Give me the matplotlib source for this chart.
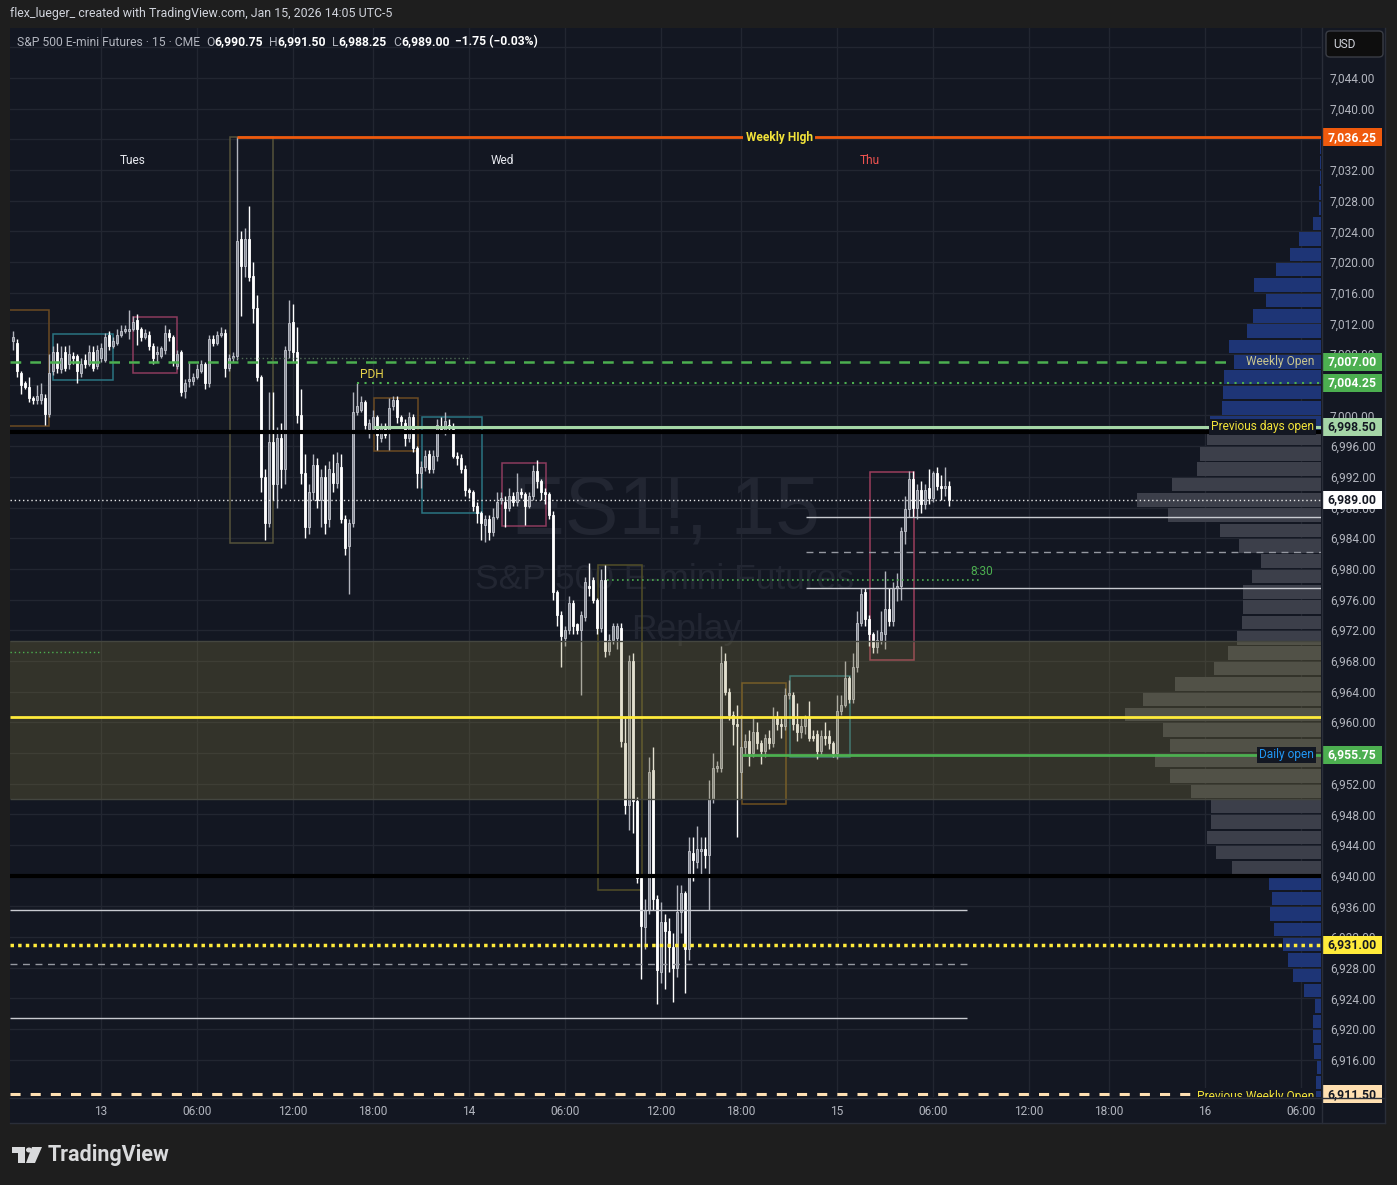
import numpy as np
import matplotlib.pyplot as plt
from matplotlib.patches import Rectangle, FancyBboxPatch, Polygon, Circle
from matplotlib.lines import Line2D
from matplotlib.ticker import FuncFormatter
import matplotlib.transforms as mtrans

FONT = ['Roboto', 'DejaVu Sans']
plt.rcParams['font.family'] = FONT

W, H = 1397, 1185
BG = '#131722'
OUT = '#1e1e1e'
AXC = '#b2b5be'

# ---- 15 min bars, index 0 = Jan 13 00:00 (ET) ----
first_bar = -22
opens = [7009.75, 7009.5, 7005.5, 7004.25, 7003.75, 7002.25, 7002, 7002, 7002.25, 7000.25,
         7005.75, 7008.25, 7006, 7008.25, 7006.75, 7007.75, 7007.75, 7005.5, 7007.25, 7006.75,
         7008.25, 7006.5, 7007.5, 7007.25, 7010.5, 7009, 7009.5, 7010.5, 7011, 7011,
         7011.25, 7012.5, 7011.25, 7010.25, 7010.5, 7009, 7008, 7007.75, 7008.5, 7010.75,
         7010.25, 7006.5, 7008.25, 7003.25, 7004.5, 7004.5, 7005, 7005.75, 7006.75, 7004.25,
         7010, 7009.5, 7010.5, 7010.75, 7006.25, 7007.5, 7007.75, 7023, 7019.5, 7023,
         7018.25, 7014, 7005, 6992, 6986, 6996.5, 6991, 6997, 6993, 7008.5,
         7012.25, 7008.25, 7000, 6992.5, 6985.5, 6990, 6993.5, 6989, 6992, 6986.5,
         6992.5, 6991.25, 6993.25, 6986.5, 6983, 6986, 7000.5, 7000.75, 7001.75, 6998.25,
         6998.25, 6999.75, 6997, 6998.5, 6998, 7001.25, 7002, 6999.75, 6999, 6997,
         6999.75, 6995.75, 6992.5, 6993.25, 6995, 6993, 6994.75, 6998.5, 6998, 6998.75,
         6998.25, 6994.75, 6994.5, 6993, 6990.25, 6990, 6988.25, 6987.25, 6985.75, 6986.5,
         6984.75, 6986.75, 6989, 6988.75, 6988, 6989.5, 6988.75, 6990, 6989.75, 6988.25,
         6989.5, 6992.75, 6991.5, 6990, 6989.75, 6987, 6977, 6974, 6971, 6972,
         6975.5, 6972.75, 6972, 6973.75, 6977.75, 6978.5, 6976, 6972.25, 6978.5, 6969.25,
         6970.75, 6971, 6972.25, 6957.25, 6949.25, 6968, 6949.75, 6939.75, 6933.25, 6935.5,
         6953.75, 6937, 6927.5, 6934, 6932.75, 6930.75, 6928, 6935.25, 6937.75, 6930.5,
         6943, 6941.75, 6943.25, 6943.5, 6942.75, 6950, 6954, 6954, 6968, 6964,
         6961, 6959.75, 6953.5, 6956.75, 6957.5, 6956, 6958.75, 6957.25, 6956.25, 6958,
         6957.25, 6960.75, 6959.75, 6959.5, 6963.5, 6963.5, 6959.75, 6958.75, 6959.5, 6960.75,
         6958.25, 6958.5, 6956.25, 6958.25, 6958.25, 6957.25, 6956, 6961.5, 6962.25, 6965.75,
         6963, 6967.25, 6973, 6977, 6973.5, 6971.5, 6969.75, 6970.75, 6971.5, 6974.75,
         6973.25, 6977.5, 6977.75, 6985, 6987.75, 6991.75, 6988, 6990.25, 6988.5, 6990.5,
         6989.25, 6992.5, 6990.75, 6990.5, 6990.75]
highs = [7011, 7010, 7005.75, 7004.5, 7005, 7002.5, 7004, 7004.25, 7002.75, 7008,
         7009, 7009.5, 7009, 7009, 7009.25, 7008.25, 7008, 7007.5, 7008, 7009.25,
         7009, 7009.25, 7009.5, 7010.75, 7011, 7010.25, 7011.25, 7011.75, 7011.75, 7013.75,
         7013, 7013.25, 7011.5, 7011.25, 7011, 7009.5, 7009, 7009, 7011.75, 7011.25,
         7010.5, 7008.5, 7008.5, 7004.75, 7007, 7005.5, 7006.75, 7007.25, 7007, 7010.5,
         7010.5, 7011, 7011.5, 7011.25, 7008, 7008.25, 7036.25, 7024, 7024.5, 7027.25,
         7020, 7015.75, 7005.25, 6993, 7003, 7003, 6998.5, 6999, 7009, 7015,
         7014.5, 7011.5, 7003.5, 6995, 6991, 6995, 6994.5, 6993, 6993.5, 6994,
         6995, 6995.25, 6995, 6987, 6986.5, 7003, 7004.25, 7002.5, 7002, 6999.5,
         7000.75, 7000, 6999, 6999, 7002.25, 7002.5, 7002.5, 7000, 6999.5, 7000.5,
         7000.25, 6996, 6994, 6995.5, 6995.5, 6995.5, 6999.5, 6999.75, 7000.5, 6999.5,
         6999, 6995.25, 6995, 6993.5, 6990.5, 6990.25, 6988.75, 6987.5, 6987, 6987,
         6988, 6990, 6990, 6989.5, 6990.5, 6990, 6992.5, 6990.5, 6990, 6990,
         6993.5, 6994.25, 6991.75, 6990.5, 6990, 6987.5, 6977.25, 6974.5, 6972.5, 6976.5,
         6976, 6973, 6974.5, 6979, 6980.75, 6979, 6976.25, 6980, 6980.5, 6971.5,
         6973, 6973, 6973, 6960.5, 6968.75, 6969, 6950.25, 6940, 6937, 6955.5,
         6956.75, 6937.5, 6936.5, 6935, 6934.5, 6932.5, 6938.75, 6938.75, 6938, 6945,
         6945, 6946.5, 6945, 6945, 6952.5, 6956, 6955, 6970, 6969, 6964.5,
         6961.5, 6962.25, 6961, 6958.5, 6959, 6960.5, 6960, 6957.75, 6958.5, 6959,
         6962, 6961.5, 6960.5, 6964.5, 6965.5, 6964, 6962.5, 6960.5, 6961, 6962.75,
         6959, 6959, 6959, 6960, 6959, 6957.5, 6963.5, 6963.5, 6968, 6966,
         6969, 6974.5, 6977.5, 6977.5, 6974, 6971.75, 6972, 6974.5, 6979.75, 6977.5,
         6978.25, 6979.5, 6985.5, 6989.5, 6992.75, 6992.75, 6991, 6991.5, 6991, 6993,
         6992.75, 6993.25, 6992.25, 6993.25, 6991.5]
lows = [7008.5, 7005, 7002.75, 7003.5, 7001.75, 7001.5, 7001.5, 7001.5, 6998.75, 6999.75,
        7005.25, 7005.5, 7005.5, 7005.75, 7006, 7006.75, 7004.25, 7005, 7006.25, 7006.5,
        7005.75, 7006, 7007, 7007, 7008.5, 7008.75, 7009.25, 7010.25, 7010.75, 7010,
        7011, 7009.25, 7009.75, 7010, 7008.5, 7006.75, 7007, 7007.5, 7008, 7009.75,
        7006.5, 7006, 7002.5, 7002.25, 7003.75, 7004, 7004.75, 7005.5, 7003.5, 7003.75,
        7009, 7009.25, 7010.25, 7005, 7005.75, 7007, 7007.25, 7013, 7018, 7017.5,
        7012, 7004.5, 6990, 6983.75, 6985.5, 6989, 6988, 6990.5, 6991, 7007.5,
        7007, 6999, 6991, 6984, 6984.5, 6989, 6988, 6985.5, 6984.5, 6985.5,
        6990, 6990.5, 6986, 6981.75, 6976.75, 6985.5, 7000, 7000.5, 6998.25, 6997,
        6997.75, 6995.5, 6996.5, 6997, 6995.5, 7000.75, 6999, 6998.5, 6996, 6996.5,
        6995.25, 6990.5, 6990.5, 6992.75, 6992.5, 6992.5, 6994, 6997.75, 6997.5, 6997.75,
        6994.5, 6993.5, 6992.5, 6989.5, 6989.25, 6987.5, 6986, 6983.75, 6983.5, 6983.75,
        6984.25, 6986.5, 6988.5, 6985.5, 6987.5, 6988.25, 6988.25, 6989.25, 6985.75, 6988,
        6989, 6990.5, 6989, 6988.5, 6986.5, 6976, 6972.5, 6967.25, 6970, 6971.5,
        6971.5, 6971.5, 6963.5, 6973.25, 6976.5, 6975.5, 6971.5, 6971.75, 6968.5, 6968.75,
        6970.25, 6969.5, 6956.75, 6948, 6946, 6945.5, 6939, 6926.5, 6930.5, 6935,
        6935.5, 6923.25, 6926, 6925.25, 6927.5, 6923.5, 6926.75, 6932.5, 6924.75, 6929,
        6939.25, 6941, 6940, 6941, 6935.5, 6949.5, 6953.5, 6953.5, 6963.5, 6960.25,
        6957, 6945, 6950, 6955.75, 6954.25, 6955.5, 6956.5, 6954.5, 6955.5, 6956.5,
        6956.75, 6959, 6958, 6959, 6963, 6959, 6957.5, 6958, 6958.5, 6957.5,
        6957.5, 6955.25, 6955.75, 6957, 6956.5, 6955.5, 6955.25, 6961, 6962, 6962.5,
        6962.5, 6966.5, 6972.5, 6972.5, 6970, 6969, 6969, 6970.25, 6969.5, 6972.5,
        6972.5, 6975.75, 6976, 6983.25, 6986.75, 6986.75, 6986.5, 6987.25, 6987.75, 6988.5,
        6988.75, 6990.25, 6989, 6989.5, 6988.25]
closes = [7010.25, 7005.75, 7004, 7003.75, 7002.25, 7002, 7002.5, 7002.75, 7000.25, 7005.5,
          7008.25, 7006.25, 7007.5, 7006.25, 7008, 7007.5, 7005.75, 7006.75, 7006.75, 7008.25,
          7006.25, 7008.5, 7008.75, 7010.25, 7009, 7009.75, 7010.5, 7011, 7011.25, 7011.25,
          7012.25, 7011.25, 7010.25, 7010.75, 7009, 7007.5, 7008.25, 7008.75, 7010.75, 7010.25,
          7007, 7008, 7003, 7004.25, 7004.75, 7005, 7006, 7006.75, 7004.25, 7010,
          7009.5, 7010.5, 7010.75, 7006.25, 7007.5, 7007.75, 7022.75, 7019.5, 7023, 7018,
          7014, 7005, 6992, 6986, 6996.5, 6991, 6997, 6993, 7008.5, 7012,
          7008.25, 7000, 6992.5, 6985.5, 6990, 6993.5, 6989, 6992, 6986, 6993,
          6991.25, 6993.75, 6986.5, 6982.75, 6986, 7000.5, 7001.25, 7001.75, 6998.75, 6999,
          6999.75, 6997.5, 6998.5, 6997.5, 7001, 7002, 6999.75, 6999.25, 6997, 6999.75,
          6995.75, 6992.5, 6993.25, 6994.75, 6993, 6994.75, 6998.75, 6998.25, 6999.25, 6998.5,
          6994.75, 6994.5, 6993, 6990.25, 6990, 6988.25, 6987.25, 6986, 6986.5, 6984.75,
          6986.75, 6988.75, 6989.25, 6988, 6989.5, 6988.75, 6990, 6989.75, 6988.25, 6989.5,
          6992.75, 6991.5, 6990, 6989.75, 6987, 6977, 6974, 6971.25, 6972, 6975.5,
          6972.5, 6972, 6974, 6978.25, 6977.5, 6976, 6972.25, 6978.5, 6969.25, 6970.75,
          6972.5, 6972.5, 6957.5, 6949.25, 6968, 6949.75, 6939.75, 6933.5, 6935.5, 6953.5,
          6937, 6927.75, 6934, 6932.75, 6930.75, 6928, 6935.25, 6937.75, 6930.5, 6943.25,
          6942, 6943.5, 6943.5, 6942.75, 6950, 6954, 6954.25, 6967.75, 6964, 6961,
          6959.75, 6959.5, 6956.75, 6957.5, 6956, 6958.75, 6957.25, 6956.25, 6958, 6957.25,
          6960.75, 6959.75, 6959.5, 6963.5, 6963.75, 6959.75, 6958.75, 6959.5, 6960.75, 6958,
          6958, 6956.25, 6958.25, 6958, 6957.25, 6956, 6961.5, 6962.25, 6965.75, 6963,
          6967.25, 6973, 6976.75, 6973.5, 6971.5, 6969.75, 6970.75, 6971.75, 6974.75, 6973.25,
          6977.5, 6977.75, 6985, 6987.75, 6991.75, 6988, 6990.25, 6988.5, 6990.25, 6989.25,
          6992.5, 6990.75, 6990.5, 6990.75, 6989]

# time axis
time_ticks = [0, 24, 48, 68, 92, 116, 140, 160, 184, 208, 232, 252, 276, 300]
time_labels = ['13', '06:00', '12:00', '18:00', '14', '06:00', '12:00', '18:00',
               '15', '06:00', '12:00', '18:00', '16', '06:00']
day_names = ['Tues', 'Wed', 'Thu']
day_pos = [8, 100.25, 192.25]

# price scale ticks hidden under the price tags / USD button
hidden_ticks = [7048, 7036, 7004, 6956, 6912]

# volume profile, 2 point rows
vp_levels = list(range(6910, 7036, 2))
vp_volume = [7, 5, 4, 7, 8, 8, 6, 17, 28, 33, 38, 47, 51, 49, 52,
             89, 105, 114, 110, 110, 130, 151, 166, 151, 158, 196, 178, 146, 107, 93,
             84, 79, 78, 78, 69, 60, 82, 101, 153, 184, 149, 124, 121, 114,
             111, 99, 98, 97, 87, 92, 74, 68, 55, 67, 45, 31, 22, 8, 2, 2, 1.5, 1.5, 1.5]
va_low, va_high = 6940, 6998

# key levels
weekly_high = 7036.25
weekly_open = 7007.0
green_level = 7004.25
prev_day_open = 6998.5
midnight_line = 6997.9
last_price = 6989.0
daily_open = 6955.75
zone_low, zone_high = 6950.0, 6970.6
zone_mid = 6960.75
low_black = 6939.9
yellow_dotted = 6931.0
prev_weekly_open = 6911.5

# session boxes (bar index, price)
box_left = [-24, -12, 8, 32.25, 68.25, 80.25, 100.25, 124.25, 160.25, 172.25, 192.25]
box_right = [-13, 3, 19, 43, 79.25, 95.25, 111.25, 135.25, 171.25, 187.25, 203.25]
box_low = [6998.6, 7004.6, 7005.5, 6983.4, 6995.4, 6987.3, 6985.6, 6938.1, 6949.3, 6955.5, 6968.1]
box_high = [7013.75, 7010.6, 7012.8, 7036.25, 7002.3, 6999.8, 6993.8, 6980.5, 6965.1, 6966.0, 6992.6]
box_colors = ['#6b4a22', '#2a7482', '#8c3b5e', '#55533a', '#6b4a22', '#2a7482', '#8c3b5e',
              '#524e28', '#6e5020', '#2a7482', '#9a3d5c']


def fx(px):
    return px / W


def fy(py):
    return 1 - py / H


fig = plt.figure(figsize=(W / 100, H / 100), dpi=100, facecolor=OUT)
fig.add_artist(Rectangle((fx(10), fy(1123)), fx(1385) - fx(10), fy(28) - fy(1123),
                         transform=fig.transFigure, facecolor=BG, edgecolor='none', zorder=-5))

ax = fig.add_axes([fx(10), fy(1097), fx(1321) - fx(10), fy(28) - fy(1097)], facecolor=BG)
XL, XR = -22.75, 305.0
ax.set_xlim(XL, XR)
ax.set_ylim(6911.14, 7050.52)
for s in ax.spines.values():
    s.set_visible(False)
ax.set_axisbelow(True)

ax.set_xticks(time_ticks)
ax.set_xticklabels(time_labels)
ax.set_yticks(np.arange(6916, 7049, 4))
ax.yaxis.set_major_formatter(
    FuncFormatter(lambda v, p: '' if round(v) in hidden_ticks else f'{v:,.2f}'))
ax.yaxis.tick_right()
ax.tick_params(axis='y', length=0, pad=6.5, labelcolor=AXC, labelsize=8.6)
ax.tick_params(axis='x', length=0, pad=6, labelcolor=AXC, labelsize=8.6)
ax.grid(True, color='#222631', lw=1)

# watermark
ax.text(0.4996, 0.547, 'ES1!, 15', transform=ax.transAxes, ha='center', va='center',
        fontsize=58, color='#222632', family='Liberation Sans', zorder=1)
ax.text(0.4996, 0.484, 'S&P 500 E-mini Futures', transform=ax.transAxes, ha='center', va='center',
        fontsize=25.5, color='#222632', family='Liberation Sans', zorder=1)
ax.text(0.516, 0.437, 'Replay', transform=ax.transAxes, ha='center', va='center',
        fontsize=25.5, color='#222632', family='Liberation Sans', zorder=1)

# volume profile
lv = np.array(vp_levels, dtype=float)
vv = np.array(vp_volume) * 0.25
in_va = (lv >= va_low) & (lv < va_high)
ax.barh(lv[in_va] + 0.12, vv[in_va], left=XR - vv[in_va], height=1.76, align='edge',
        color='#3c3f4a', lw=0, zorder=2)
ax.barh(lv[~in_va] + 0.12, vv[~in_va], left=XR - vv[~in_va], height=1.76, align='edge',
        color='#1e3576', lw=0, zorder=2)

# session boxes
for x0, x1, lo, hi, col in zip(box_left, box_right, box_low, box_high, box_colors):
    ax.add_patch(Rectangle((x0, lo), x1 - x0, hi - lo, fill=False, edgecolor=col, lw=1.1, zorder=3))

# candles
idx = np.arange(first_bar, first_bar + len(opens))
o, h, l, c = (np.array(a, dtype=float) for a in (opens, highs, lows, closes))
up = c >= o
body_lo = np.minimum(o, c)
body_h = np.maximum(np.abs(c - o), 0.18)
ax.vlines(idx[up], l[up], h[up], color='#b2b5be', lw=1, zorder=4)
ax.vlines(idx[~up], l[~up], h[~up], color='#ffffff', lw=1, zorder=4)
ax.bar(idx[up], body_h[up], bottom=body_lo[up], width=0.62, color='#868993',
       edgecolor='#c4c7cf', lw=0.6, zorder=4.5)
ax.bar(idx[~up], body_h[~up], bottom=body_lo[~up], width=0.62, color='#ffffff',
       edgecolor='#ffffff', lw=0.6, zorder=4.5)

# highlighted zone (drawn over candles)
ax.add_patch(Rectangle((XL, zone_low), XR - XL, zone_high - zone_low, facecolor='#938742',
                       alpha=0.25, edgecolor='none', zorder=5))
ax.hlines([zone_low, zone_high], XL, XR, colors='#44463f', lw=1, zorder=5)

# lines
ax.hlines(weekly_high, 34, XR, colors='#ef5a0d', lw=2, zorder=6)
ax.hlines(weekly_open, XL, 282.25, colors='#4caf50', lw=1.8, linestyles=(0, (4.3, 3.6)), zorder=6)
ax.hlines(green_level, 64, XR, colors='#4caf50', lw=1.5, linestyles=(0, (1, 2.6)), zorder=6)
ax.hlines(7007.5, 33, 92, colors='#4f6b55', lw=1, linestyles=(0, (1, 2)), zorder=6)
ax.hlines(midnight_line, XL, XR, colors='#000000', lw=3, zorder=6)
ax.hlines(prev_day_open, 68, XR, colors='#a5d6a7', lw=2.2, zorder=6)
ax.hlines(last_price, XL, XR, colors='#e8e8e8', lw=1, linestyles=(0, (1, 2)), zorder=6)
ax.hlines([6986.75, 6977.5], 176.25, XR, colors='#c8cad0', lw=1, zorder=6)
ax.hlines(6982.25, 176.25, XR, colors='#9598a1', lw=1, linestyles=(0, (5, 4)), zorder=6)
ax.hlines(6978.6, 126.5, 220.25, colors='#4caf50', lw=1.2, linestyles=(0, (1, 2)), zorder=6)
ax.hlines(6969.1, XL, 0, colors='#4caf50', lw=1, linestyles=(0, (1, 2)), zorder=6)
ax.hlines(zone_mid, XL, XR, colors='#ffeb3b', lw=2, zorder=6)
ax.hlines(daily_open, 160.25, XR, colors='#4caf50', lw=2, zorder=6)
ax.hlines(low_black, XL, XR, colors='#000000', lw=3, zorder=6)
ax.hlines([6935.5, 6921.5], XL, 216.5, colors='#c8cad0', lw=1, zorder=6)
ax.hlines(6928.5, XL, 216.5, colors='#9598a1', lw=1, linestyles=(0, (5, 4)), zorder=6)
ax.hlines(yellow_dotted, XL, XR, colors='#ffeb3b', lw=2.5, linestyles=(0, (1, 1.2)), zorder=6)
ax.hlines(prev_weekly_open, XL, XR, colors='#ffe0b2', lw=2.2, linestyles=(0, (3.3, 3.3)), zorder=6)

# line labels
lab = dict(fontsize=8.6, va='center', zorder=8)
ax.text(169.5, weekly_high, 'Weekly HIgh', color='#f2e33a', ha='center', fontweight='bold',
        bbox=dict(facecolor=BG, edgecolor='none', pad=1.5), **lab)
ax.text(303.25, weekly_open, 'Weekly Open', color='#c9c58e', ha='right', **lab)
ax.text(303.25, prev_day_open, 'Previous days open', color='#f2e33a', ha='right',
        bbox=dict(facecolor=BG, edgecolor='none', pad=1.2), **lab)
ax.text(303.25, daily_open, 'Daily open', color='#2196f3', ha='right',
        bbox=dict(facecolor=BG, edgecolor='none', pad=1.2), **lab)
ax.text(303.25, prev_weekly_open - 0.3, 'Previous Weekly Open', color='#f2e33a', ha='right',
        bbox=dict(facecolor=BG, edgecolor='none', pad=1.2), clip_on=True, **lab)
ax.text(67.75, 7005.4, 'PDH', color='#e8d44a', ha='center', **lab)
ax.text(220.25, 6979.7, '8:30', color='#4caf50', ha='center', **lab)
for name, pos in zip(day_names, day_pos):
    ax.text(pos, 7033.3, name, color='#ef5350' if name == 'Thu' else '#e6e8ee',
            ha='center', **lab)

# price scale tags
trans = mtrans.blended_transform_factory(ax.transAxes, ax.transData)
price_tags = [(weekly_high, '#ef5a0d', 'white'), (weekly_open, '#4caf50', 'white'),
              (green_level, '#4caf50', 'white'), (prev_day_open, '#a5d6a7', '#131722'),
              (last_price, '#ffffff', '#131722'), (daily_open, '#4caf50', 'white'),
              (yellow_dotted, '#ffeb3b', '#131722'), (prev_weekly_open, '#ffe0b2', '#131722')]
x0 = (1322 - 10) / 1311
bw = 60 / 1311
bh = 18 / 7.672
for p, bgc, fgc in price_tags:
    ax.add_patch(Rectangle((x0, p - bh / 2), bw, bh, transform=trans, facecolor=bgc,
                           edgecolor='none', clip_on=False, zorder=10))
    ax.text(x0 + bw / 2, p, f'{p:,.2f}', transform=trans, ha='center', va='center',
            color=fgc, fontsize=8.8, fontweight='bold', clip_on=False, zorder=11)

# frame lines
for xa, ya, xb, yb in [(1322, 28, 1322, 1123), (10, 1097.5, 1385, 1097.5),
                       (10, 1123, 1385, 1123), (1385, 28, 1385, 1123)]:
    fig.add_artist(Line2D([fx(xa), fx(xb)], [fy(ya), fy(yb)], color='#2a2e39', lw=1,
                          transform=fig.transFigure))

# USD box
fig.add_artist(FancyBboxPatch((fx(1326), fy(57)), fx(57), 26 / H,
                              boxstyle='round,pad=0,rounding_size=0.003',
                              transform=fig.transFigure, facecolor='#0e0e0e',
                              edgecolor='#3a3d45', lw=1))
fig.text(fx(1344), fy(44), 'USD', color='#d1d4dc', fontsize=8.6, ha='center', va='center')

# header
fig.text(fx(10), fy(14), 'flex_lueger_ created with TradingView.com, Jan 15, 2026 14:05 UTC-5',
         color='#d1d4dc', fontsize=8.9, ha='left', va='center')

renderer = fig.canvas.get_renderer()
chg = closes[-1] - closes[-2]
pct = chg / closes[-2] * 100
legend_parts = [('S&P 500 E-mini Futures · 15 · CME', AXC, 'normal', 6),
                ('O', AXC, 'normal', 0), (f'{opens[-1]:,.2f}', '#ffffff', 'bold', 6),
                ('H', AXC, 'normal', 0), (f'{highs[-1]:,.2f}', '#ffffff', 'bold', 6),
                ('L', AXC, 'normal', 0), (f'{lows[-1]:,.2f}', '#ffffff', 'bold', 6),
                ('C', AXC, 'normal', 0), (f'{closes[-1]:,.2f}', '#ffffff', 'bold', 6),
                (f'{chg:.2f} ({pct:.2f}%)'.replace('-', '\u2212'), '#ffffff', 'bold', 0)]
xp = 17
for txt, col, wt, gap in legend_parts:
    t = fig.text(fx(xp), fy(42), txt, color=col, fontsize=8.7, fontweight=wt, ha='left', va='center')
    xp += t.get_window_extent(renderer).width + gap

# TradingView logo
logo = '#d9dadc'
fig.add_artist(Rectangle((fx(12), fy(1153)), fx(13), 6 / H, transform=fig.transFigure,
                         facecolor=logo, edgecolor='none'))
fig.add_artist(Rectangle((fx(18), fy(1163)), fx(7), 16 / H, transform=fig.transFigure,
                         facecolor=logo, edgecolor='none'))
fig.add_artist(Polygon([[fx(32), fy(1147)], [fx(42), fy(1147)], [fx(35), fy(1163)], [fx(26), fy(1163)]],
                       closed=True, transform=fig.transFigure, facecolor=logo, edgecolor='none'))
fig.add_artist(Circle((fx(29), fy(1150)), 3 / W, transform=fig.transFigure, facecolor=logo,
                      edgecolor='none'))
fig.text(fx(48), fy(1155), 'TradingView', color=logo, fontsize=15.5, fontweight='bold',
         ha='left', va='center')

fig.savefig('out.png', dpi=100, facecolor=OUT)
